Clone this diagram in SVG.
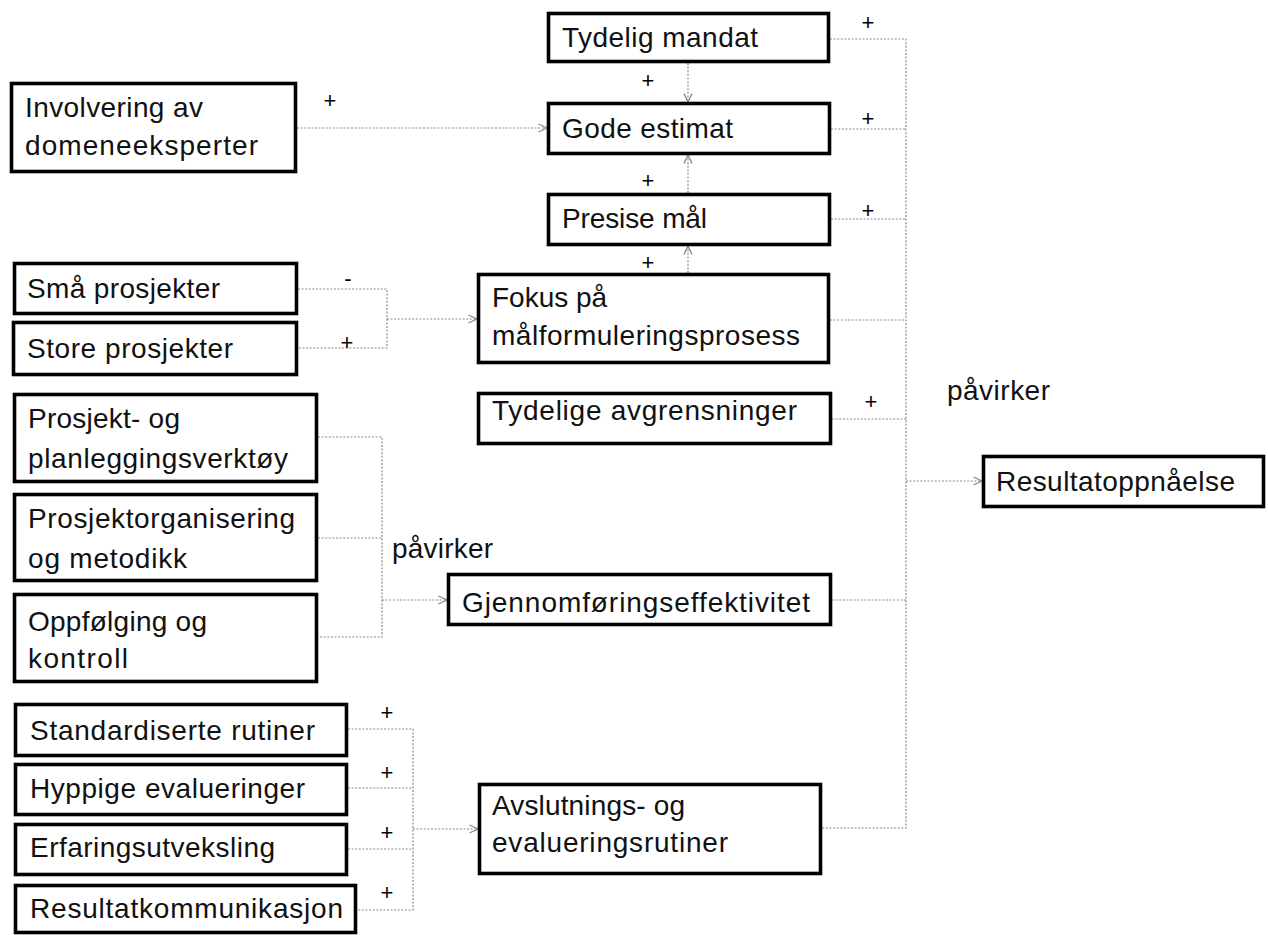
<svg xmlns="http://www.w3.org/2000/svg" width="1268" height="935" viewBox="0 0 1268 935">
<style>
  .box { fill: #fff; stroke: #000; stroke-width: 3.6; }
  .t { font-family: "Liberation Sans", Arial, sans-serif; font-size: 28px; fill: #111; }
  .s { font-family: "Liberation Sans", Arial, sans-serif; font-size: 22px; fill: #000; text-anchor: middle; }
  .c { fill: none; stroke: #8a8a8a; stroke-width: 1.2; stroke-dasharray: 2 1.6; }
  .a { marker-end: url(#arr); }
</style>
<defs>
  <marker id="arr" viewBox="0 0 10 10" refX="9.5" refY="5" markerWidth="10" markerHeight="10" markerUnits="userSpaceOnUse" orient="auto">
    <path d="M1,1 L9.5,5 L1,9" fill="none" stroke="#888" stroke-width="1.3"/>
  </marker>
</defs>
<rect width="1268" height="935" fill="#fff"/>

<g id="connectors">
  <path class="c a" d="M688,63 V102"/>
  <path class="c a" d="M688,193 V155"/>
  <path class="c a" d="M688,273 V246"/>
  <path class="c a" d="M297,128 H547"/>
  <path class="c" d="M298,289 H387 V348 H298"/>
  <path class="c a" d="M387,319 H477"/>
  <path class="c" d="M318,437 H382 V637 H318 M318,538 H382"/>
  <path class="c a" d="M382,600 H447"/>
  <path class="c" d="M348,729 H413 V910 H357 M348,788 H413 M348,849 H413"/>
  <path class="c a" d="M413,829 H478"/>
  <path class="c" d="M830,39 H906 V828 H822 M831,129 H906 M831,219 H906 M830,320 H906 M832,419 H906 M832,600 H906"/>
  <path class="c a" d="M906,481 H982"/>
</g>

<g id="labels">
  <text class="s" x="648" y="88">+</text>
  <text class="s" x="648" y="188">+</text>
  <text class="s" x="648" y="270">+</text>
  <text class="s" x="868" y="30">+</text>
  <text class="s" x="868" y="126">+</text>
  <text class="s" x="868" y="218">+</text>
  <text class="s" x="871" y="409">+</text>
  <text class="s" x="330" y="108">+</text>
  <text class="s" x="348" y="286">-</text>
  <text class="s" x="347" y="350">+</text>
  <text class="s" x="387" y="720">+</text>
  <text class="s" x="387" y="780">+</text>
  <text class="s" x="387" y="840">+</text>
  <text class="s" x="387" y="900">+</text>
  <text class="t" x="947" y="400" textLength="103" lengthAdjust="spacing">påvirker</text>
  <text class="t" x="392" y="558" textLength="101" lengthAdjust="spacing">påvirker</text>
</g>

<g id="n-tydelig-mandat">
  <rect class="box" x="548.5" y="13.5" width="280" height="48"/>
  <text class="t" x="562" y="47" textLength="196" lengthAdjust="spacing">Tydelig mandat</text>
</g>
<g id="n-gode-estimat">
  <rect class="box" x="548.5" y="103.5" width="281" height="50"/>
  <text class="t" x="562" y="138" textLength="171" lengthAdjust="spacing">Gode estimat</text>
</g>
<g id="n-presise-maal">
  <rect class="box" x="548.5" y="194.5" width="281" height="50"/>
  <text class="t" x="562" y="228" textLength="145" lengthAdjust="spacing">Presise mål</text>
</g>
<g id="n-fokus">
  <rect class="box" x="478.5" y="274.5" width="350" height="88"/>
  <text class="t" x="492" y="307">Fokus på</text>
  <text class="t" x="492" y="345" textLength="308" lengthAdjust="spacing">målformuleringsprosess</text>
</g>
<g id="n-tydelige-avgrensninger">
  <rect class="box" x="478.5" y="393.5" width="352" height="50"/>
  <text class="t" x="492" y="420" textLength="305" lengthAdjust="spacing">Tydelige avgrensninger</text>
</g>
<g id="n-gjennomforing">
  <rect class="box" x="448.5" y="574.5" width="382" height="50"/>
  <text class="t" x="462" y="612" textLength="348" lengthAdjust="spacing">Gjennomføringseffektivitet</text>
</g>
<g id="n-avslutnings">
  <rect class="box" x="479.5" y="784.5" width="341" height="89"/>
  <text class="t" x="492" y="815" textLength="193" lengthAdjust="spacing">Avslutnings- og</text>
  <text class="t" x="492" y="852" textLength="236" lengthAdjust="spacing">evalueringsrutiner</text>
</g>
<g id="n-resultatoppnaaelse">
  <rect class="box" x="983.5" y="456.5" width="280" height="50"/>
  <text class="t" x="996" y="491" textLength="239" lengthAdjust="spacing">Resultatoppnåelse</text>
</g>
<g id="n-involvering">
  <rect class="box" x="11.5" y="83.5" width="284" height="88"/>
  <text class="t" x="25" y="117" textLength="178" lengthAdjust="spacing">Involvering av</text>
  <text class="t" x="25" y="155" textLength="233" lengthAdjust="spacing">domeneeksperter</text>
</g>
<g id="n-smaa">
  <rect class="box" x="14.5" y="263.5" width="282" height="50"/>
  <text class="t" x="27" y="298" textLength="193" lengthAdjust="spacing">Små prosjekter</text>
</g>
<g id="n-store">
  <rect class="box" x="13.5" y="322.5" width="283" height="52"/>
  <text class="t" x="27" y="358" textLength="206" lengthAdjust="spacing">Store prosjekter</text>
</g>
<g id="n-prosjekt-planlegging">
  <rect class="box" x="14.5" y="394.5" width="302" height="87"/>
  <text class="t" x="28" y="428" textLength="152" lengthAdjust="spacing">Prosjekt- og</text>
  <text class="t" x="28" y="468" textLength="260" lengthAdjust="spacing">planleggingsverktøy</text>
</g>
<g id="n-prosjektorganisering">
  <rect class="box" x="14.5" y="494.5" width="302" height="86"/>
  <text class="t" x="28" y="528" textLength="267" lengthAdjust="spacing">Prosjektorganisering</text>
  <text class="t" x="28" y="568" textLength="159" lengthAdjust="spacing">og metodikk</text>
</g>
<g id="n-oppfolging">
  <rect class="box" x="14.5" y="594.5" width="302" height="87"/>
  <text class="t" x="28" y="631" textLength="179" lengthAdjust="spacing">Oppfølging og</text>
  <text class="t" x="28" y="668" textLength="100" lengthAdjust="spacing">kontroll</text>
</g>
<g id="n-standardiserte">
  <rect class="box" x="15.5" y="704.5" width="331" height="51"/>
  <text class="t" x="30" y="740" textLength="285" lengthAdjust="spacing">Standardiserte rutiner</text>
</g>
<g id="n-hyppige">
  <rect class="box" x="15.5" y="764.5" width="331" height="50"/>
  <text class="t" x="30" y="798" textLength="275" lengthAdjust="spacing">Hyppige evalueringer</text>
</g>
<g id="n-erfaring">
  <rect class="box" x="15.5" y="824.5" width="331" height="50"/>
  <text class="t" x="30" y="857" textLength="245" lengthAdjust="spacing">Erfaringsutveksling</text>
</g>
<g id="n-resultatkommunikasjon">
  <rect class="box" x="15.5" y="885.5" width="340" height="47"/>
  <text class="t" x="30" y="918" textLength="313" lengthAdjust="spacing">Resultatkommunikasjon</text>
</g>
</svg>
